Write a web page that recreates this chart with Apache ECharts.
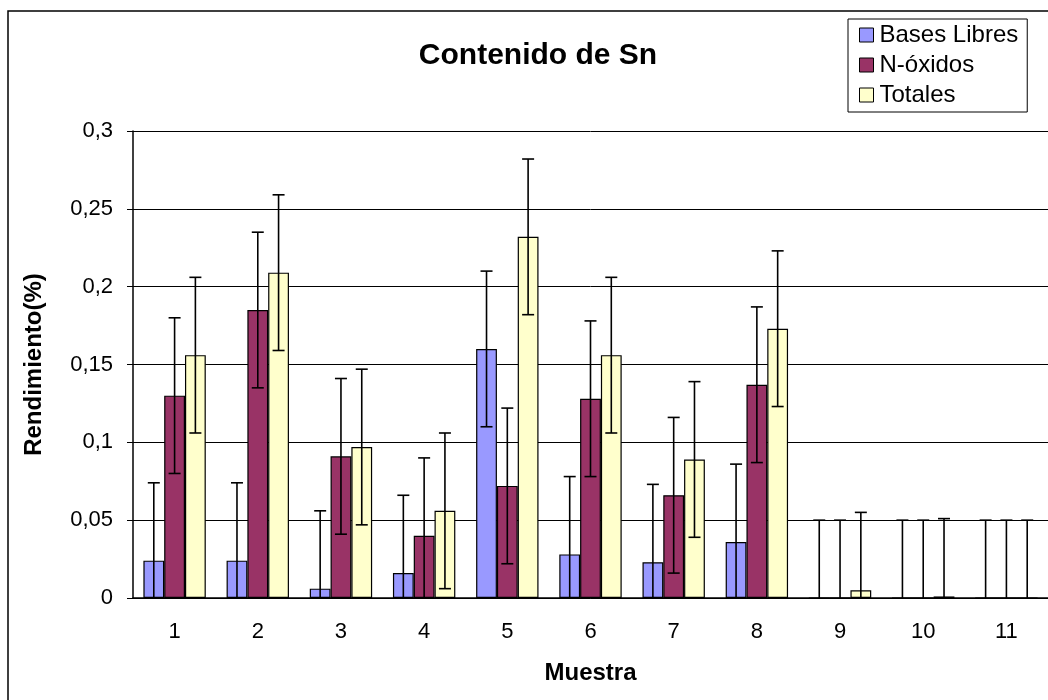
<!DOCTYPE html>
<html>
<head>
<meta charset="utf-8">
<script src="https://cdn.jsdelivr.net/npm/echarts@6/dist/echarts.min.js"></script>
<style>html,body{margin:0;padding:0;background:#fff}#c{width:1048px;height:700px}</style>
</head>
<body>
<div id="c"></div>
<script>
var categories = ['1','2','3','4','5','6','7','8','9','10','11'];
var basesLibres = [0.024,0.024,0.006,0.016,0.160,0.028,0.023,0.036,0,0,0];
var nOxidos     = [0.130,0.185,0.091,0.040,0.072,0.128,0.066,0.137,0,0,0];
var totales     = [0.156,0.209,0.097,0.056,0.232,0.156,0.089,0.173,0.005,0.001,0];
var errorMargin = 0.05;
var seriesNames = ['Bases Libres','N-óxidos','Totales'];
var seriesColors = ['#9999FF','#993366','#FFFFCC'];
var seriesData = [basesLibres, nOxidos, totales];

var FONT = 'Liberation Sans, Arial, sans-serif';
var chart = echarts.init(document.getElementById('c'));

function errSeries(idx){
  return {
    type:'custom', name: seriesNames[idx] + ' err', z:10,
    data: seriesData[idx].map(function(v,i){return [i,v];}),
    renderItem: function(params, api){
      var ci = api.value(0), v = api.value(1);
      var bw = api.size([1,0])[0];
      var barW = bw*0.75/3;
      var off = (idx-1)*barW;
      var top = api.coord([ci, v+errorMargin]);
      var bot = api.coord([ci, Math.max(0, v-errorMargin)]);
      var x = top[0]+off;
      var cap = 6;
      var children = [
        {type:'line', shape:{x1:x,y1:top[1],x2:x,y2:bot[1]}, style:{stroke:'#000',lineWidth:1.6}},
        {type:'line', shape:{x1:x-cap,y1:top[1],x2:x+cap,y2:top[1]}, style:{stroke:'#000',lineWidth:1.6}}
      ];
      if (v-errorMargin >= 0) {
        children.push({type:'line', shape:{x1:x-cap,y1:bot[1],x2:x+cap,y2:bot[1]}, style:{stroke:'#000',lineWidth:1.6}});
      }
      return {type:'group', children:children};
    },
    tooltip:{show:false}
  };
}

var series = [];
for (var s=0;s<3;s++){
  series.push({
    type:'bar', name: seriesNames[s], data: seriesData[s],
    barGap:'0%', barCategoryGap:'25%',
    itemStyle:{color:seriesColors[s], borderColor:'#000', borderWidth:1.2}
  });
}
for (var s2=0;s2<3;s2++) series.push(errSeries(s2));

chart.setOption({
  animation:false,
  backgroundColor:'#fff',
  graphic:[{type:'rect', shape:{x:8,y:11,width:1100,height:720}, style:{fill:'none',stroke:'#000',lineWidth:1.5}, z:-1}],
  title:{text:'Contenido de Sn', left:533, textAlign:'center', top:36,
    textStyle:{fontFamily:FONT,fontSize:30,fontWeight:'bold',color:'#000'}},
  legend:{
    data: seriesNames, orient:'vertical', left:848, top:19, icon:'rect',
    backgroundColor:'#fff', borderColor:'#000', borderWidth:1,
    padding:[4,9,5,11], itemGap:6, itemWidth:14, itemHeight:14,
    itemStyle:{borderColor:'#000', borderWidth:1},
    textStyle:{fontFamily:FONT,fontSize:24,color:'#000',padding:[0,0,0,1]}
  },
  grid:{left:133, top:131, width:918, height:467},
  xAxis:{
    type:'category', data:categories,
    name:'Muestra', nameLocation:'middle', nameGap:63,
    nameTextStyle:{fontFamily:FONT,fontSize:24,fontWeight:'bold',color:'#000'},
    axisLine:{lineStyle:{color:'#000',width:1.5}},
    axisTick:{length:7, lineStyle:{color:'#000'}},
    axisLabel:{fontFamily:FONT,fontSize:22,color:'#000',margin:23}
  },
  yAxis:{
    type:'value', min:0, max:0.3, interval:0.05,
    name:'Rendimiento(%)', nameLocation:'middle', nameGap:87,
    nameTextStyle:{fontFamily:FONT,fontSize:24,fontWeight:'bold',color:'#000'},
    axisLine:{show:true, lineStyle:{color:'#000',width:1.5}},
    axisTick:{show:true, length:6, lineStyle:{color:'#000'}},
    axisLabel:{fontFamily:FONT,fontSize:22,color:'#000',margin:20,
      formatter:function(v){return String(+v.toFixed(2)).replace('.',',');}},
    splitLine:{lineStyle:{color:'#000',width:1}}
  },
  series: series
});
</script>
</body>
</html>
